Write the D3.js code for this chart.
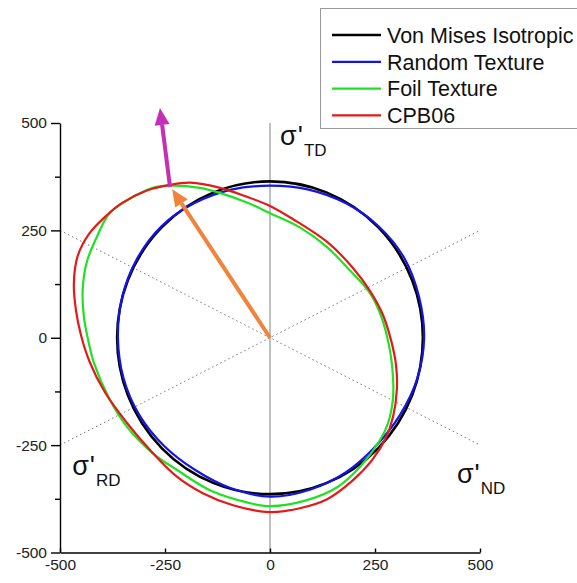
<!DOCTYPE html>
<html>
<head>
<meta charset="utf-8">
<script src="https://cdn.jsdelivr.net/npm/d3@7"></script>
<style>
  html, body { margin: 0; padding: 0; background: #fff; }
  svg { display: block; font-family: "Liberation Sans", Arial, sans-serif; }
</style>
</head>
<body>
<svg id="chart" width="577" height="583"></svg>
<script>
// ---- data (deviatoric stress in the pi-plane, MPa) ----
const axisTicks = [-500, -250, 0, 250, 500];
const minorTicksY = [-375, -125, 125, 375];

// isotropic von Mises yield locus: circle radius
const vonMisesRadius = 364;

// random texture locus [x, y]
const randomTexture = [
  [367, 0], [355, 95], [320, 185], [259, 259], [181, 313], [92, 345],
  [0, 354], [-92, 345], [-181, 313], [-259, 259], [-317, 183], [-352, 94],
  [-362, 0], [-349, -93], [-311, -180], [-252, -252], [-178, -308], [-94, -350],
  [0, -370], [95, -354], [181, -313], [252, -252], [310, -179], [351, -94]
];

// foil texture locus [x, y]
const foilTexture = [
  [0, 290], [71, 257], [136, 211], [190, 157], [238, 104], [262, 57],
  [279, 2], [290, -59], [293, -138], [281, -199], [262, -238], [214, -301],
  [160, -348], [88, -378], [0, -392], [-48, -385], [-143, -355], [-221, -308],
  [-279, -269], [-340, -208], [-381, -145], [-419, -59], [-433, -5], [-443, 48],
  [-446, 112], [-436, 177], [-413, 233], [-381, 291], [-326, 328], [-279, 349],
  [-238, 354], [-167, 349], [-126, 339], [-55, 315]
];

// CPB06 model locus [x, y]
const cpb06 = [
  [0, 307], [55, 276], [136, 223], [198, 162], [238, 109], [269, 53],
  [288, -5], [300, -63], [302, -121], [293, -184], [276, -233], [243, -285],
  [195, -334], [136, -376], [71, -397], [0, -406], [-88, -390], [-160, -362],
  [-221, -324], [-286, -261], [-340, -199], [-393, -127], [-429, -57], [-450, 6],
  [-462, 64], [-467, 127], [-458, 190], [-430, 243], [-390, 284], [-352, 314],
  [-293, 343], [-238, 356], [-190, 361], [-119, 349], [-60, 330]
];

// projected principal-axis guide lines
const guideLines = [
  [[-500, 250], [500, -250]],
  [[-500, -250], [500, 250]]
];

// loading direction arrows
const arrowOrange = [[0, 0], [-233, 346]];
const arrowMagenta = [[-238, 351], [-262, 535]];

const seriesNames = ["Von Mises Isotropic", "Random Texture", "Foil Texture", "CPB06"];
const seriesColors = ["#000000", "#1414e6", "#22e022", "#e41a1a"];

// axis direction labels
const dirLabels = [
  { sub: "TD", pos: [24, 449] },
  { sub: "RD", pos: [-471, -320] },
  { sub: "ND", pos: [445, -338] }
];

// ---- drawing ----
const svg = d3.select("#chart");
const x = d3.scaleLinear().domain([-500, 500]).range([60, 480]);
const y = d3.scaleLinear().domain([-500, 500]).range([552.5, 123]);

// guide lines
svg.append("g").selectAll("line").data(guideLines).join("line")
  .attr("x1", d => x(d[0][0])).attr("y1", d => y(d[0][1]))
  .attr("x2", d => x(d[1][0])).attr("y2", d => y(d[1][1]))
  .attr("stroke", "#777").attr("stroke-width", 1)
  .attr("stroke-dasharray", "1.5,3");

// vertical zero line
svg.append("line")
  .attr("x1", x(0)).attr("x2", x(0))
  .attr("y1", y(500)).attr("y2", y(-500))
  .attr("stroke", "#808080").attr("stroke-width", 1);

// left axis
svg.append("g").attr("transform", `translate(${x(-500)},0)`)
  .call(d3.axisLeft(y).tickValues(axisTicks).tickSizeInner(9).tickSizeOuter(0)
    .tickPadding(4).tickFormat(d => String(d)));
svg.append("g").attr("transform", `translate(${x(-500)},0)`)
  .call(d3.axisLeft(y).tickValues(minorTicksY).tickSize(5).tickFormat(""))
  .call(g => g.select(".domain").remove());

// bottom axis
svg.append("g").attr("transform", `translate(0,${y(-500)})`)
  .call(d3.axisBottom(x).tickValues(axisTicks).tickSizeInner(-4).tickSizeOuter(0)
    .tickPadding(6).tickFormat(d => String(d)));

svg.selectAll(".tick text").attr("font-size", 15.5).attr("fill", "#222")
  .attr("font-family", "'Liberation Sans', Arial, sans-serif");
svg.selectAll(".domain, .tick line").attr("stroke", "#000").attr("stroke-width", 1.4);

// curves
const plot = svg.append("g");
plot.append("ellipse")
  .attr("cx", x(0)).attr("cy", y(0))
  .attr("rx", x(vonMisesRadius) - x(0)).attr("ry", y(0) - y(vonMisesRadius))
  .attr("fill", "none").attr("stroke", seriesColors[0]).attr("stroke-width", 2.6);

const lineSmooth = d3.line().x(d => x(d[0])).y(d => y(d[1])).curve(d3.curveCatmullRomClosed.alpha(0.5));

plot.append("path").attr("d", lineSmooth(randomTexture))
  .attr("fill", "none").attr("stroke", seriesColors[1]).attr("stroke-width", 2.2);
plot.append("path").attr("d", lineSmooth(foilTexture))
  .attr("fill", "none").attr("stroke", seriesColors[2]).attr("stroke-width", 2.2);
plot.append("path").attr("d", lineSmooth(cpb06))
  .attr("fill", "none").attr("stroke", seriesColors[3]).attr("stroke-width", 2.2);

// arrows
function drawArrow(seg, color) {
  const x0 = x(seg[0][0]), y0 = y(seg[0][1]);
  const x1 = x(seg[1][0]), y1 = y(seg[1][1]);
  const ang = Math.atan2(y1 - y0, x1 - x0);
  const headLen = 17, headHalf = 7.5;
  const bx = x1 - headLen * Math.cos(ang), by = y1 - headLen * Math.sin(ang);
  svg.append("line")
    .attr("x1", x0).attr("y1", y0).attr("x2", bx).attr("y2", by)
    .attr("stroke", color).attr("stroke-width", 4);
  const nx = -Math.sin(ang), ny = Math.cos(ang);
  svg.append("path")
    .attr("d", `M${x1},${y1}L${bx + nx * headHalf},${by + ny * headHalf}L${bx - nx * headHalf},${by - ny * headHalf}Z`)
    .attr("fill", color);
}
drawArrow(arrowOrange, "#f0843c");
drawArrow(arrowMagenta, "#c52fb5");

// direction labels
dirLabels.forEach(l => {
  const t = svg.append("text")
    .attr("x", x(l.pos[0])).attr("y", y(l.pos[1]))
    .attr("fill", "#111").attr("font-size", 27);
  t.append("tspan").text("σ");
  t.append("tspan").text("'").attr("dx", 1);
  t.append("tspan").text(l.sub).attr("font-size", 17).attr("dy", 11).attr("dx", 1);
});

// legend
const legend = svg.append("g");
legend.append("rect")
  .attr("x", 320.5).attr("y", 8.5).attr("width", 270).attr("height", 120)
  .attr("fill", "#fff").attr("stroke", "#999").attr("stroke-width", 1);
seriesNames.forEach((name, i) => {
  const yy = 35 + i * 26.8;
  legend.append("line")
    .attr("x1", 332).attr("x2", 381).attr("y1", yy).attr("y2", yy)
    .attr("stroke", seriesColors[i]).attr("stroke-width", i === 0 ? 2.6 : 2.2);
  legend.append("text")
    .attr("x", 387).attr("y", yy + 7.8)
    .attr("font-size", 21.5).attr("fill", "#111").text(name);
});
</script>
</body>
</html>
